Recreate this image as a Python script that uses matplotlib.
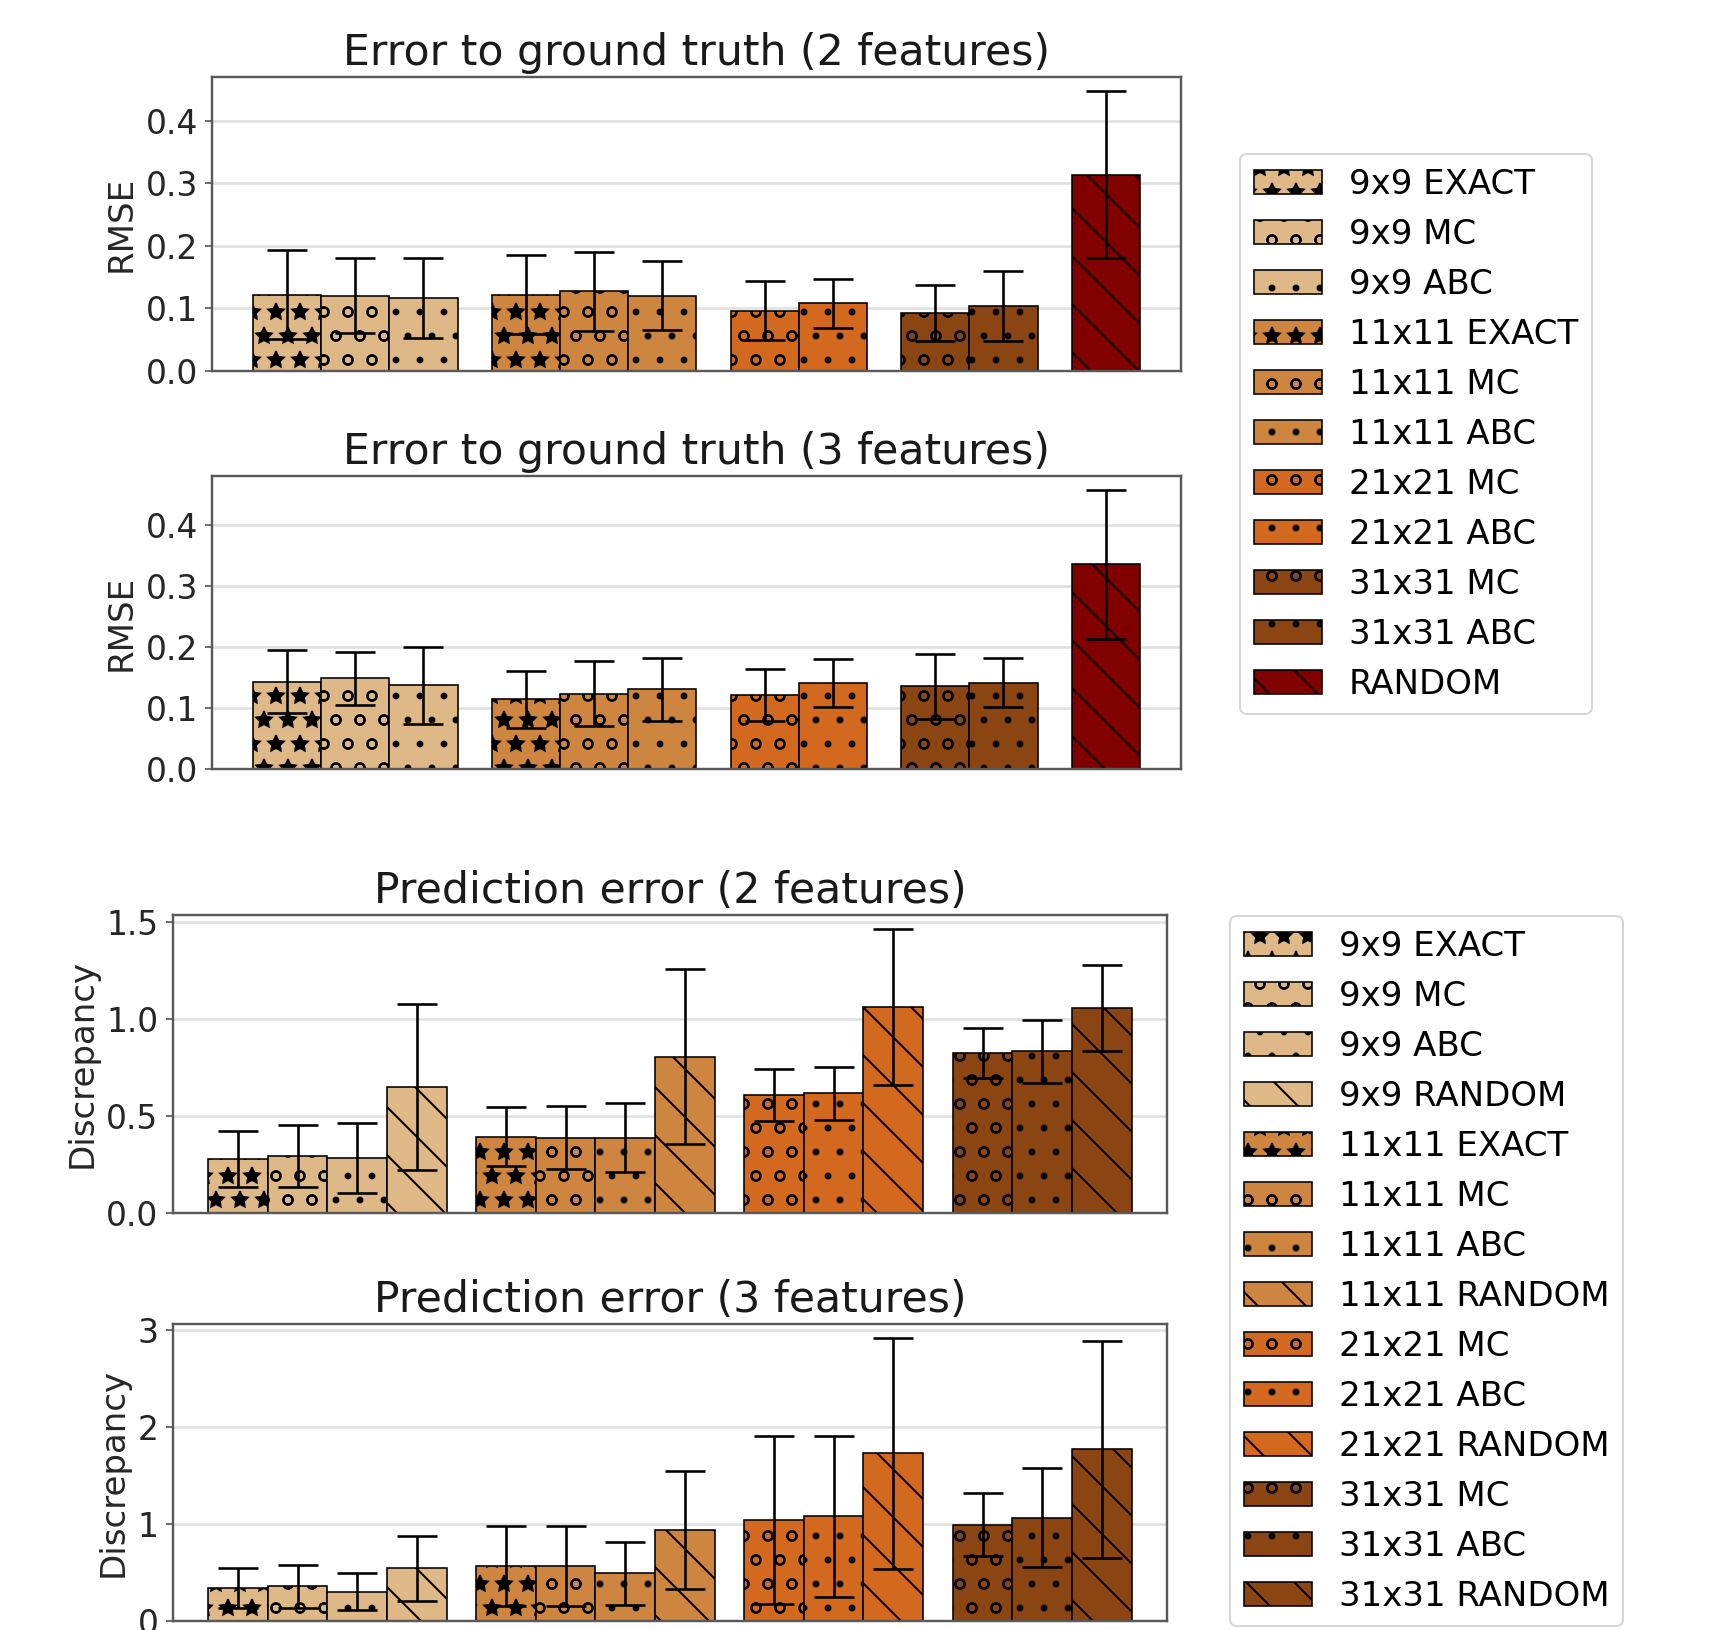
import numpy as np
import matplotlib
matplotlib.use('Agg')
import matplotlib.pyplot as plt

plt.rcParams['font.family'] = 'DejaVu Sans'
plt.rcParams['hatch.linewidth'] = 1.0

# --- error to ground truth (RMSE) ---
truth_groups = [['9x9 EXACT', '9x9 MC', '9x9 ABC'],
                ['11x11 EXACT', '11x11 MC', '11x11 ABC'],
                ['21x21 MC', '21x21 ABC'],
                ['31x31 MC', '31x31 ABC'],
                ['RANDOM']]
truth2_mean = [0.122, 0.120, 0.116, 0.122, 0.127, 0.120,
               0.096, 0.108, 0.092, 0.104, 0.314]
truth2_err = [0.072, 0.060, 0.064, 0.064, 0.063, 0.055,
              0.047, 0.039, 0.045, 0.056, 0.134]
truth3_mean = [0.144, 0.149, 0.138, 0.115, 0.124, 0.131,
               0.122, 0.142, 0.136, 0.142, 0.336]
truth3_err = [0.051, 0.044, 0.063, 0.047, 0.053, 0.051,
              0.043, 0.039, 0.053, 0.040, 0.122]

# --- prediction error (discrepancy) ---
pred_groups = [['9x9 EXACT', '9x9 MC', '9x9 ABC', '9x9 RANDOM'],
               ['11x11 EXACT', '11x11 MC', '11x11 ABC', '11x11 RANDOM'],
               ['21x21 MC', '21x21 ABC', '21x21 RANDOM'],
               ['31x31 MC', '31x31 ABC', '31x31 RANDOM']]
pred2_mean = [0.277, 0.294, 0.282, 0.650, 0.393, 0.388, 0.388, 0.804,
              0.606, 0.616, 1.061, 0.824, 0.833, 1.055]
pred2_err = [0.146, 0.159, 0.180, 0.428, 0.151, 0.163, 0.177, 0.452,
             0.133, 0.137, 0.402, 0.131, 0.162, 0.223]
pred3_mean = [0.339, 0.359, 0.304, 0.544, 0.564, 0.564, 0.493, 0.937,
              1.043, 1.078, 1.728, 0.992, 1.067, 1.769]
pred3_err = [0.205, 0.223, 0.192, 0.335, 0.411, 0.411, 0.325, 0.609,
             0.863, 0.828, 1.187, 0.325, 0.507, 1.118]

grid_colors = {'9x9': '#deb887', '11x11': '#cd853f', '21x21': '#d2691e',
               '31x31': '#8b4513', 'RANDOM': '#800000'}
method_hatch = {'EXACT': '*', 'MC': 'o', 'ABC': '.', 'RANDOM': '\\'}

GAP = 0.5
MARGIN = 0.6


def bar_style(label):
    parts = label.split()
    return grid_colors[parts[0]], method_hatch[parts[-1]]


def draw_panel(ax, groups, means, errs, title, ylabel, yticks):
    labels = [lab for g in groups for lab in g]
    pos = []
    x = 0.0
    for g in groups:
        for _ in g:
            pos.append(x)
            x += 1.0
        x += GAP
    handles = []
    for p, lab, m, e in zip(pos, labels, means, errs):
        color, hatch = bar_style(lab)
        b = ax.bar(p, m, width=1.0, align='edge', color=color, hatch=hatch,
                   edgecolor='black', linewidth=0.8, yerr=e, capsize=10,
                   error_kw=dict(ecolor='black', elinewidth=1.3, capthick=1.3),
                   label=lab)
        handles.append(b)
    ax.set_xlim(pos[0] - MARGIN, pos[-1] + 1.0 + MARGIN)
    ax.set_xticks([])
    ax.set_yticks(yticks)
    ax.tick_params(axis='y', labelsize=16.5, colors='0.3', labelcolor='0.15')
    ax.yaxis.grid(True, color='0.88', linewidth=1.3)
    ax.set_axisbelow(True)
    for sp in ax.spines.values():
        sp.set_color('0.35')
        sp.set_linewidth(1.2)
    ax.set_title(title, fontsize=21.3, color='0.1')
    ax.set_ylabel(ylabel, fontsize=17, color='0.15')
    return handles, labels


fig = plt.figure(figsize=(1709 / 144, 1630 / 144), dpi=144)

ax1 = fig.add_axes([0.124, 0.7726, 0.567, 0.1801])
ax2 = fig.add_axes([0.124, 0.528, 0.567, 0.180])
ax3 = fig.add_axes([0.101, 0.256, 0.582, 0.1827])
ax4 = fig.add_axes([0.101, 0.0055, 0.582, 0.1822])

h1, l1 = draw_panel(ax1, truth_groups, truth2_mean, truth2_err,
                    'Error to ground truth (2 features)', 'RMSE',
                    [0.0, 0.1, 0.2, 0.3, 0.4])
draw_panel(ax2, truth_groups, truth3_mean, truth3_err,
           'Error to ground truth (3 features)', 'RMSE',
           [0.0, 0.1, 0.2, 0.3, 0.4])
h3, l3 = draw_panel(ax3, pred_groups, pred2_mean, pred2_err,
                    'Prediction error (2 features)', 'Discrepancy',
                    [0.0, 0.5, 1.0, 1.5])
draw_panel(ax4, pred_groups, pred3_mean, pred3_err,
           'Prediction error (3 features)', 'Discrepancy', [0, 1, 2, 3])

fig.legend(h1, l1, loc='upper left', bbox_to_anchor=(0.7256, 0.9055),
           fontsize=17, borderaxespad=0.0)
fig.legend(h3, l3, loc='upper left', bbox_to_anchor=(0.7197, 0.438),
           fontsize=17, borderaxespad=0.0)

fig.savefig('out.png', dpi=144)
